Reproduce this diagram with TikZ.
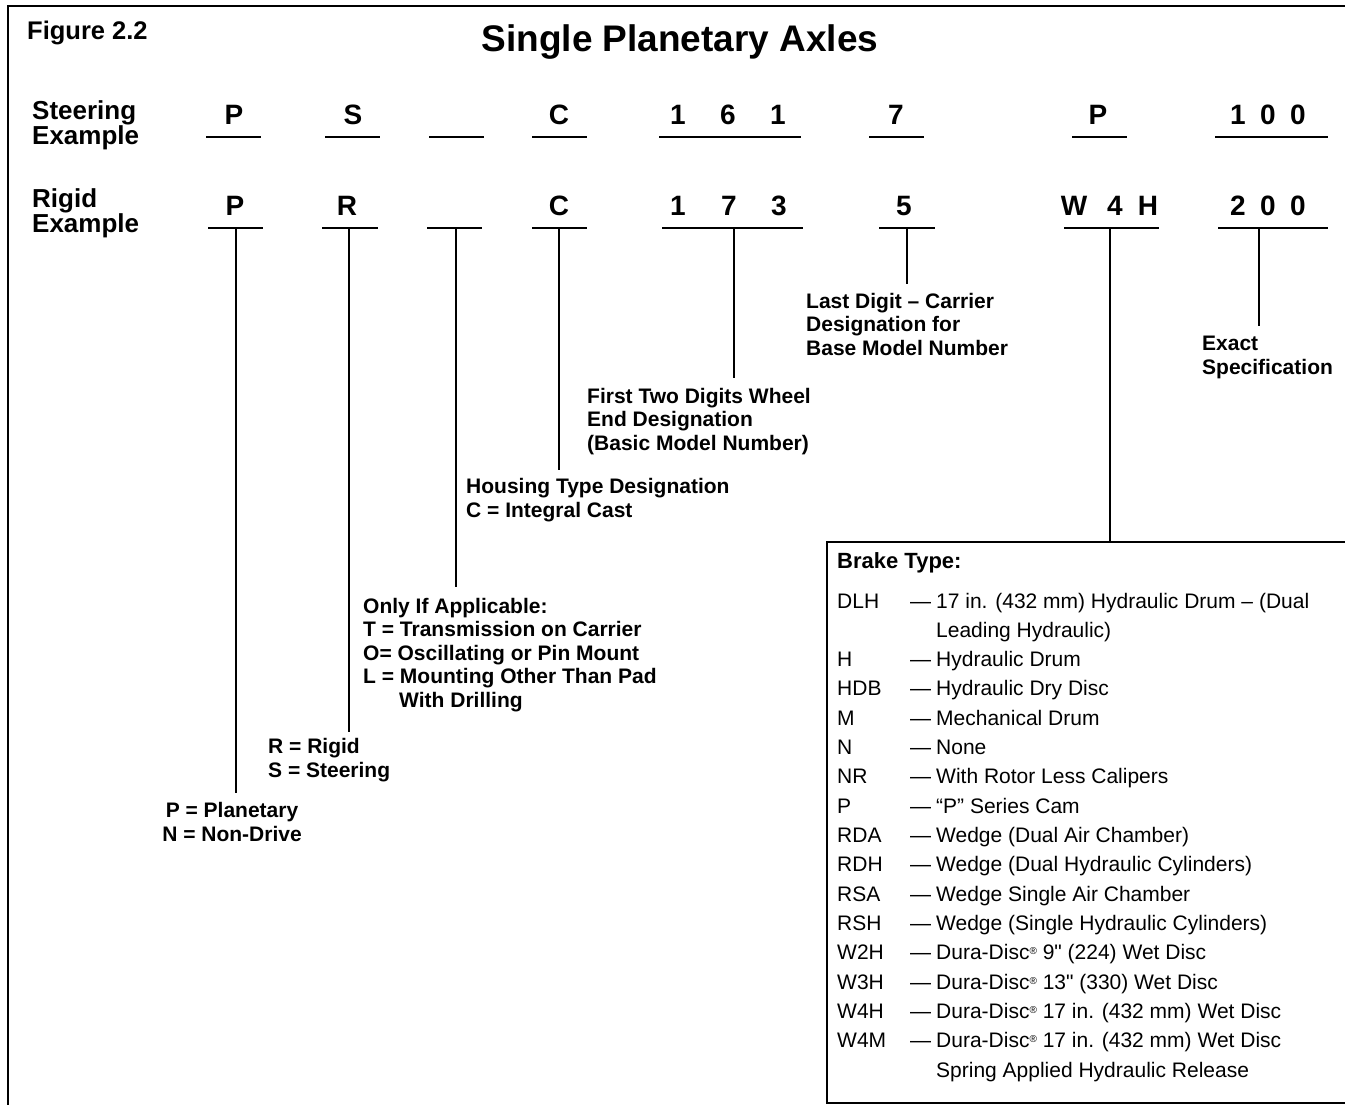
\documentclass[tikz,border=0pt]{standalone}
\usepackage{fontspec}
\setmainfont{Liberation Sans}
\newfontfamily\inchfont{Liberation Sans}[Ligatures=TeXOff]
\newcommand{\inchmark}{{\inchfont"}}
\newcommand{\regmark}{\raisebox{5pt}{\fontsize{10}{10}\selectfont ®}}
\newcommand{\brow}[2]{\makebox[73pt][l]{#1}\makebox[26pt][l]{—}#2}
\newcommand{\bcont}[1]{\hspace*{99pt}#1}
\begin{document}
\begin{tikzpicture}[x=1pt,y=-1pt,
  lbl/.style={font=\fontsize{21}{23.5}\selectfont\bfseries, inner sep=0pt, align=left, anchor=base west},
  lblc/.style={font=\fontsize{21}{23.5}\selectfont\bfseries, inner sep=0pt, align=center, anchor=base},
  codech/.style={font=\fontsize{28}{30}\selectfont\bfseries, inner sep=0pt, anchor=base},
  rowlbl/.style={font=\fontsize{26}{25}\selectfont\bfseries, inner sep=0pt, align=left, anchor=base west},
  uline/.style={line width=1.3pt},
  conn/.style={line width=1.3pt},
  frame/.style={line width=2.5pt},
  boxtxt/.style={font=\fontsize{21}{29.31}\selectfont, inner sep=0pt, align=left, anchor=base west}
]
\useasboundingbox (0,0) rectangle (1345,1105);
% frame
\draw[frame] (8,1105) -- (8,6) -- (1345,6);
% headings
\node[font=\fontsize{25.5}{28}\selectfont\bfseries, inner sep=0pt, anchor=base west] (fig) at (27,40) {Figure 2.2};
\node[font=\fontsize{37}{40}\selectfont\bfseries, inner sep=0pt, anchor=base] (title) at (680,52) {Single Planetary Axles};
% row labels (base = last line)
\node[rowlbl] (steer) at (32,145) {Steering\\Example};
\node[rowlbl] (rigid) at (32,233) {Rigid\\Example};
% steering row
\node[codech] (s1) at (234,125) {P};
\node[codech] (s2) at (353,125) {S};
\node[codech] (s4) at (559,125) {C};
\node[codech] (s5a) at (678,125) {1};
\node[codech] (s5b) at (728,125) {6};
\node[codech] (s5c) at (778,125) {1};
\node[codech] (s6) at (896,125) {7};
\node[codech] (s7) at (1098,125) {P};
\node[codech] (s8a) at (1238,125) {1};
\node[codech] (s8b) at (1268,125) {0};
\node[codech] (s8c) at (1298,125) {0};
\draw[uline] (206,137) -- (261,137);
\draw[uline] (325,137) -- (380,137);
\draw[uline] (429,137) -- (484,137);
\draw[uline] (532,137) -- (587,137);
\draw[uline] (659,137) -- (801,137);
\draw[uline] (869,137) -- (924,137);
\draw[uline] (1072,137) -- (1127,137);
\draw[uline] (1215,137) -- (1328,137);
% rigid row
\node[codech] (r1) at (235,215) {P};
\node[codech] (r2) at (347,215) {R};
\node[codech] (r4) at (559,215) {C};
\node[codech] (r5a) at (678,215) {1};
\node[codech] (r5b) at (729,215) {7};
\node[codech] (r5c) at (779,215) {3};
\node[codech] (r6) at (904,215) {5};
\node[codech] (r7a) at (1074,215) {W};
\node[codech] (r7b) at (1115,215) {4};
\node[codech] (r7c) at (1148,215) {H};
\node[codech] (r8a) at (1238,215) {2};
\node[codech] (r8b) at (1268,215) {0};
\node[codech] (r8c) at (1298,215) {0};
\draw[uline] (208,228) -- (263,228);
\draw[uline] (322,228) -- (378,228);
\draw[uline] (427,228) -- (482,228);
\draw[uline] (532,228) -- (587,228);
\draw[uline] (662,228) -- (803,228);
\draw[uline] (879,228) -- (935,228);
\draw[uline] (1064,228) -- (1159,228);
\draw[uline] (1218,228) -- (1328,228);
% connector ends
\coordinate (t1) at (236,228);  \coordinate (b1) at (236,793);
\coordinate (t2) at (349,228);  \coordinate (b2) at (349,732);
\coordinate (t3) at (456,228);  \coordinate (b3) at (456,587);
\coordinate (t4) at (559,228);  \coordinate (b4) at (559,470);
\coordinate (t5) at (734,228);  \coordinate (b5) at (734,378);
\coordinate (t6) at (907,228);  \coordinate (b6) at (907,284);
\coordinate (t7) at (1110,228); \coordinate (b7) at (1110,542);
\coordinate (t8) at (1259,228); \coordinate (b8) at (1259,326);
\foreach \i in {1,...,8} {\draw[conn] (t\i) -- (b\i);}
% descriptions (base anchor = baseline of last line)
\node[lblc] (dP) at (232,841) {P = Planetary\\N = Non-Drive};
\node[lbl] (dR) at (268,777) {R = Rigid\\S = Steering};
\node[lbl] (dO) at (363,707) {Only If Applicable:\\T = Transmission on Carrier\\O= Oscillating or Pin Mount\\L = Mounting Other Than Pad\\\hspace*{36pt}With Drilling};
\node[lbl] (dC) at (466,517) {Housing Type Designation\\C = Integral Cast};
\node[lbl] (dF) at (587,450) {First Two Digits Wheel\\End Designation\\(Basic Model Number)};
\node[lbl] (dL) at (806,355) {Last Digit – Carrier\\Designation for\\Base Model Number};
\node[lbl] (dE) at (1202,374) {Exact\\Specification};
% brake box
\draw[line width=1.3pt] (1345,542) -- (827,542) -- (827,1103) -- (1345,1103);
\node[font=\fontsize{22}{24}\selectfont\bfseries, inner sep=0pt, anchor=base west] (bt) at (837,568) {Brake Type:};
\node[boxtxt] (blist) at (837,1077) {%
\brow{DLH}{17 in. (432 mm) Hydraulic Drum – (Dual}\\
\bcont{Leading Hydraulic)}\\
\brow{H}{Hydraulic Drum}\\
\brow{HDB}{Hydraulic Dry Disc}\\
\brow{M}{Mechanical Drum}\\
\brow{N}{None}\\
\brow{NR}{With Rotor Less Calipers}\\
\brow{P}{“P” Series Cam}\\
\brow{RDA}{Wedge (Dual Air Chamber)}\\
\brow{RDH}{Wedge (Dual Hydraulic Cylinders)}\\
\brow{RSA}{Wedge Single Air Chamber}\\
\brow{RSH}{Wedge (Single Hydraulic Cylinders)}\\
\brow{W2H}{Dura-Disc\regmark{} 9\inchmark{} (224) Wet Disc}\\
\brow{W3H}{Dura-Disc\regmark{} 13\inchmark{} (330) Wet Disc}\\
\brow{W4H}{Dura-Disc\regmark{} 17 in. (432 mm) Wet Disc}\\
\brow{W4M}{Dura-Disc\regmark{} 17 in. (432 mm) Wet Disc}\\
\bcont{Spring Applied Hydraulic Release}};
\end{tikzpicture}
\end{document}
